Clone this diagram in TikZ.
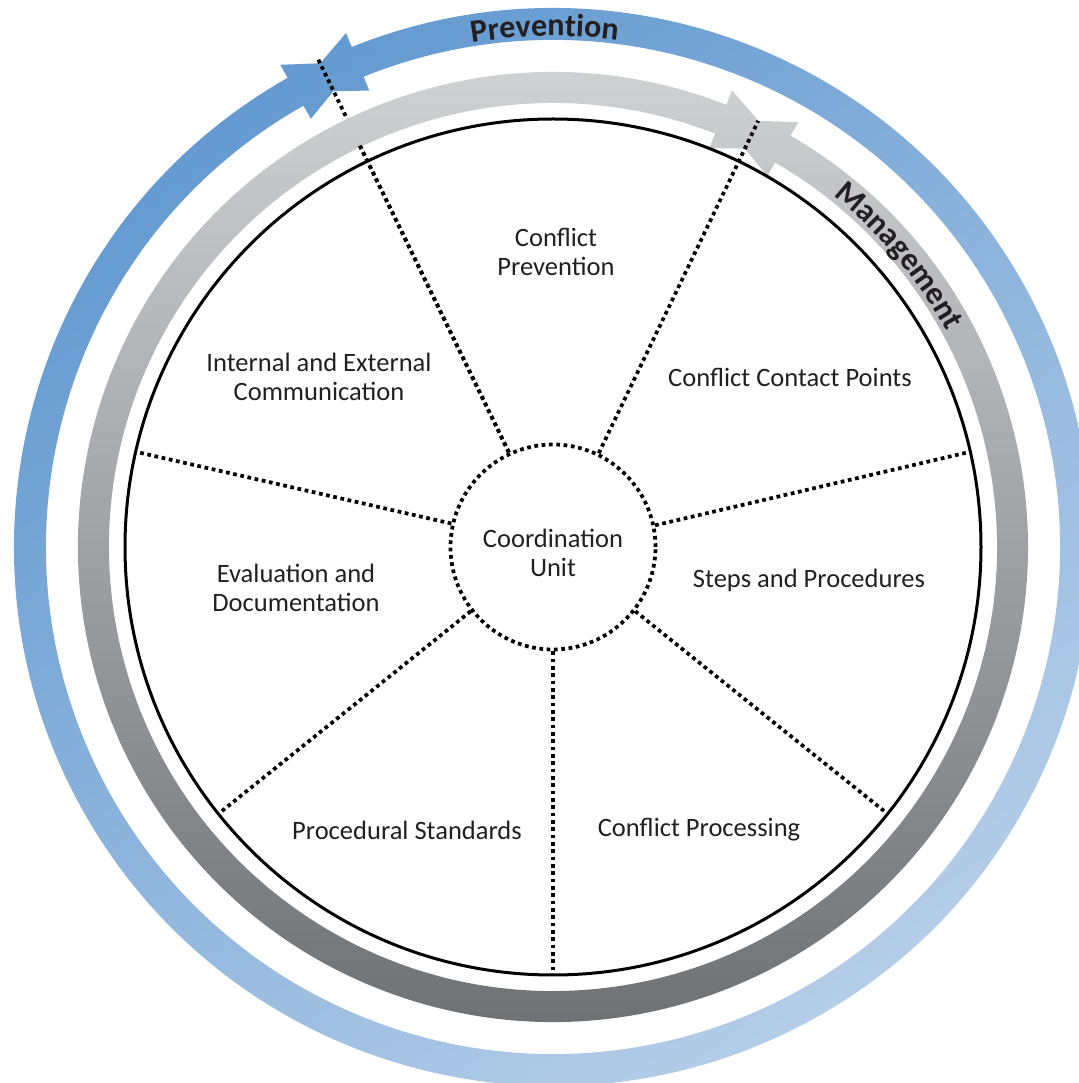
\documentclass[tikz,border=0pt]{standalone}
\usepackage{fontspec}
\setmainfont{Carlito}
\usetikzlibrary{decorations.text}
\definecolor{txt}{HTML}{231F20}
\definecolor{bluedark}{HTML}{5F97CF}
\definecolor{bluelight}{HTML}{BAD1EA}
\definecolor{graytop}{HTML}{D6D7D9}
\definecolor{graybot}{HTML}{6A6B6F}
\begin{document}
\begin{tikzpicture}[x=0.75pt,y=0.75pt,
  lbl/.style={font=\fontsize{19.9}{21.75}\selectfont, text=txt, align=center, inner sep=0pt},
  divider/.style={line width=2.8pt, dash pattern=on 2.8pt off 2.7pt, black},
  ringtext/.style={decorate, decoration={text along path, text align=center, text color=txt,
      text={|\bfseries\fontsize{24}{24}\selectfont|#1}}}
]
\useasboundingbox (0,0) rectangle (1079,1083);
\clip (0,0) rectangle (1079,1083);
\begin{scope}[shift={(553,536)}]
  % blue "Prevention" ring with bow-tie arrowheads
  \def\bL{119.49}\def\bR{111.93}
  \shade[top color=bluedark, bottom color=bluelight, shading angle=35]
    (\bL:539) arc[start angle=\bL, end angle=\bR+360, radius=539]
      -- (\bR:507) arc[start angle=\bR+360, end angle=\bL, radius=507] -- cycle
    (\bL:492) -- (\bL:554) -- (\bR:523) -- cycle
    (\bR:554) -- (\bR:492) -- (\bL:523) -- cycle;
  % centre node
  \node[circle, draw, divider, minimum size=153.75pt, inner sep=0pt] (cu) at (0,0) {};
  % divider under the grey ring
  \coordinate (e4) at (115.714:542);
  \draw[divider] (cu.115.714) -- (e4);
  % grey "Management" ring with bow-tie arrowheads
  \def\gL{68.59}\def\gR{59.99}
  \shade[top color=graytop, bottom color=graybot]
    (\gL:475) arc[start angle=\gL, end angle=\gR+360, radius=475]
      -- (\gR:444) arc[start angle=\gR+360, end angle=\gL, radius=444] -- cycle
    (\gL:428.5) -- (\gL:490.5) -- (\gR:459.5) -- cycle
    (\gR:490.5) -- (\gR:428.5) -- (\gL:459.5) -- cycle;
  % outer black circle
  \node[circle, draw, line width=2.25pt, minimum size=642pt, inner sep=0pt] (rim) at (0,0) {};
  % dividers
  \foreach \k in {0,1,2,5,6}{
    \pgfmathsetmacro{\a}{-90+\k*360/7}
    \coordinate (e\k) at (\a:428);
    \draw[divider] (cu.\a) -- (e\k);
  }
  \draw[divider] (cu.115.714) -- (115.714:448);
  \coordinate (e3) at (64.286:473);
  \draw[divider] (cu.64.286) -- (e3);
  % ring texts
  \path[ringtext=Prevention] (135.93:511) arc[start angle=135.93, end angle=45.93, radius=511];
  \path[ringtext=Management] (80.06:449) arc[start angle=80.06, end angle=0.06, radius=449];
\end{scope}
% labels
\node[lbl] (cuT) at (553,530) {Coordination\\Unit};
\node[lbl] (cp) at (556,831) {Conflict\\Prevention};
\node[lbl] (ccp) at (790,706) {Conflict Contact Points};
\node[lbl] (sp) at (809,503) {Steps and Procedures};
\node[lbl] (cpr) at (699,253) {Conflict Processing};
\node[lbl] (ps) at (407,253) {Procedural Standards};
\node[lbl] (ed) at (296,495) {Evaluation and\\Documentation};
\node[lbl] (iec) at (319,706) {Internal and External\\Communication};
\end{tikzpicture}
\end{document}
